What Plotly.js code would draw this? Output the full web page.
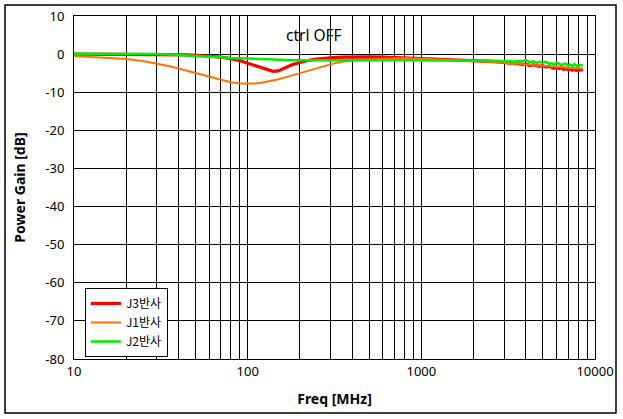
<!DOCTYPE html>
<html>
<head>
<meta charset="utf-8">
<script src="https://cdn.plot.ly/plotly-3.0.1.min.js"></script>
<style>
  html, body { margin: 0; padding: 0; background: #fff; }
  #chart { width: 623px; height: 419px; }
</style>
</head>
<body>
<div id="chart"></div>
<script>
// frequency points (MHz)
const freq = [10, 12, 15, 20, 25, 30, 35, 40, 45, 50,
  55, 60, 65, 70, 80, 90, 100, 110, 120, 130,
  140, 150, 165, 180, 200, 225, 250, 280, 310, 350,
  400, 500, 600, 750, 1000, 1200, 1500, 2000, 2500, 3000,
  3200, 3400, 3600, 3800, 4000, 4200, 4400, 4600, 4800, 5000,
  5200, 5400, 5600, 5800, 6000, 6200, 6400, 6600, 6800, 7000,
  7200, 7400, 7600, 7800, 8000, 8200, 8500];

const j3 = [0, 0, 0, 0, 0, 0, -0.1, -0.2, -0.2, -0.3,
  -0.4, -0.5, -0.6, -0.8, -1.2, -1.7, -2.4, -3.0, -3.6, -4.2,
  -4.5, -4.4, -3.5, -2.8, -2.2, -1.6, -1.3, -1.0, -0.9, -0.8,
  -0.7, -0.7, -0.8, -0.9, -1.1, -1.3, -1.5, -1.7, -1.9, -2.2,
  -2.4, -2.3, -2.6, -2.7, -2.6, -3.0, -2.8, -3.1, -3.2, -3.0,
  -3.4, -3.2, -3.5, -3.7, -3.4, -3.8, -3.6, -4.0, -3.7, -4.1,
  -3.8, -4.2, -3.9, -4.3, -3.9, -4.2, -4.0];

const j1 = [-0.5, -0.7, -0.9, -1.3, -1.8, -2.4, -3.1, -3.8, -4.4, -4.9,
  -5.5, -6.0, -6.4, -6.8, -7.4, -7.7, -7.8, -7.7, -7.5, -7.2,
  -6.9, -6.6, -6.1, -5.6, -4.9, -4.2, -3.6, -3.0, -2.5, -2.0,
  -1.7, -1.4, -1.2, -1.0, -1.2, -1.4, -1.6, -1.8, -2.0, -2.3,
  -2.4, -2.5, -2.4, -2.6, -2.8, -2.7, -2.9, -3.0, -2.9, -3.1,
  -3.2, -3.0, -3.3, -3.2, -3.4, -3.3, -3.5, -3.4, -3.6, -3.5,
  -3.7, -3.5, -3.8, -3.6, -3.8, -3.7, -3.8];

const j2 = [0.1, 0.1, 0.1, 0.1, 0.1, 0.0, -0.1, -0.2, -0.3, -0.4,
  -0.5, -0.6, -0.7, -0.8, -1.0, -1.1, -1.2, -1.3, -1.3, -1.4,
  -1.5, -1.5, -1.5, -1.6, -1.6, -1.6, -1.6, -1.6, -1.6, -1.6,
  -1.6, -1.5, -1.6, -1.6, -1.6, -1.7, -1.7, -1.7, -1.7, -1.9,
  -1.8, -2.0, -1.8, -1.9, -1.6, -2.1, -1.9, -2.3, -2.0, -2.2,
  -2.0, -2.5, -2.4, -2.7, -2.3, -2.5, -2.9, -2.6, -2.5, -3.0,
  -2.7, -3.2, -2.6, -3.0, -3.1, -2.8, -2.9];

// x grid: every 1..9 x decade, labels only on decades
const xTicks = [10, 20, 30, 40, 50, 60, 70, 80, 90,
  100, 200, 300, 400, 500, 600, 700, 800, 900,
  1000, 2000, 3000, 4000, 5000, 6000, 7000, 8000, 9000, 10000];
const xLabels = xTicks.map(v => [10, 100, 1000, 10000].includes(v) ? String(v) : "");

const yTicks = [10, 0, -10, -20, -30, -40, -50, -60, -70, -80];
const yLabels = yTicks.map(v => String(v));

const font = "Noto Sans, Noto Sans CJK KR, sans-serif";

const traces = [
  { x: freq, y: j3, name: "J3반사", mode: "lines", line: { color: "#ff0000", width: 3.2 } },
  { x: freq, y: j1, name: "J1반사", mode: "lines", line: { color: "#ff7300", width: 2 } },
  { x: freq, y: j2, name: "J2반사", mode: "lines", line: { color: "#00ee00", width: 2.5 } }
];

const layout = {
  width: 623, height: 419,
  margin: { l: 74, r: 28, t: 16, b: 60 },
  paper_bgcolor: "#fff", plot_bgcolor: "#fff",
  font: { family: font, size: 13, color: "#000" },
  showlegend: true,
  legend: {
    x: 0.021, y: 0.207, xanchor: "left", yanchor: "top",
    bordercolor: "#000", borderwidth: 1, bgcolor: "#fff",
    font: { family: "Noto Sans CJK KR, sans-serif", size: 12 },
    itemwidth: 30, tracegroupgap: 0
  },
  xaxis: {
    type: "log", range: [1, 4],
    tickvals: xTicks, ticktext: xLabels,
    showgrid: true, gridcolor: "#000", gridwidth: 1,
    showline: true, linecolor: "#000", linewidth: 1, mirror: true,
    ticks: "", zeroline: false,
    title: { text: "<b>Freq [MHz]</b>", font: { size: 14 }, standoff: 15 }
  },
  yaxis: {
    range: [-80, 10], tickvals: yTicks, ticktext: yLabels,
    showgrid: true, gridcolor: "#000", gridwidth: 1,
    showline: true, linecolor: "#000", linewidth: 1, mirror: true,
    ticks: "", zeroline: false, ticklabelstandoff: 6,
    title: { text: "<b>Power Gain [dB]</b>", font: { size: 14 }, standoff: 16 }
  },
  annotations: [{
    text: "ctrl OFF", xref: "paper", yref: "paper", x: 0.46, y: 0.945,
    xanchor: "center", yanchor: "middle",
    showarrow: false, font: { size: 15.5 }
  }],
  shapes: [{
    type: "rect", xref: "paper", yref: "paper",
    x0: -0.1324, x1: 1.0403, y0: -0.1574, y1: 1.032,
    line: { color: "#000", width: 1.5 }
  }]
};

Plotly.newPlot("chart", traces, layout, { displayModeBar: false, staticPlot: true });
</script>
</body>
</html>
